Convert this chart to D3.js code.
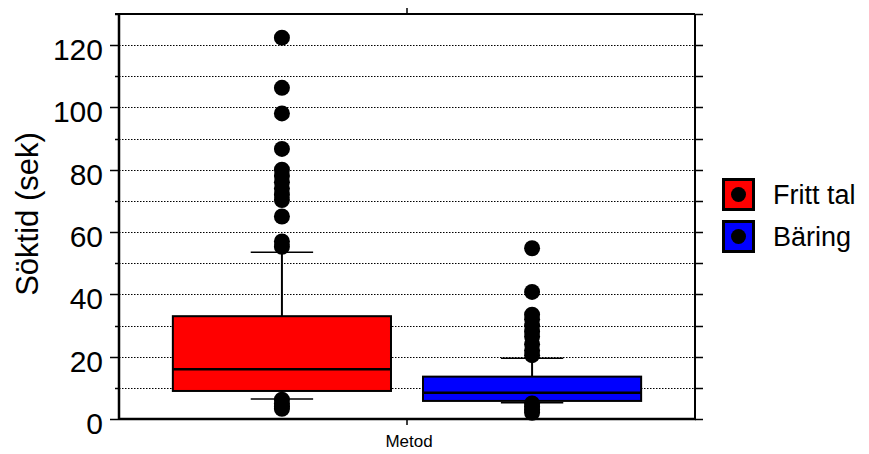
<!DOCTYPE html>
<html>
<head>
<meta charset="utf-8">
<script src="https://cdn.jsdelivr.net/npm/d3@7"></script>
<style>
	body { margin: 0; background: #fff; }
	svg { display: block; font-family: "Liberation Sans", Arial, sans-serif; }
</style>
</head>
<body>
<svg id="chart" width="869" height="454"></svg>
<script>
// Box plot data (seconds)
var groups = ["Fritt tal", "Bäring"];
var colors = ["#ff0000", "#0000ff"];
var q1 = [9.0, 5.8];
var medians = [16.0, 8.4];
var q3 = [33.0, 13.6];
var whiskerLow = [6.4, 5.2];
var whiskerHigh = [53.5, 19.5];
var outliersFritt = [122.4, 106.3, 98.1, 86.7, 80, 78, 76, 74, 72, 70.3, 65, 57, 55.3, 6.2, 5, 4, 3.3];
var outliersBaring = [54.8, 40.8, 33.5, 32, 30, 28, 26.5, 24, 22, 20.5, 5, 4, 3, 2];
var majorTicks = [0, 20, 40, 60, 80, 100, 120];
var gridValues = [10, 20, 30, 40, 50, 60, 70, 80, 90, 100, 110, 120];
var xCategory = ["Metod"];

var PLOT = { left: 119, right: 695, top: 14, bottom: 419 };
var DOT_R = 8;

function drawChart() {
	var svg = d3.select("#chart");

	var y = d3.scaleLinear()
		.domain([0, 130])
		.range([PLOT.bottom, PLOT.top]);

	// outer scale = the single "Metod" category, inner = the two groups
	var xOuter = d3.scaleBand()
		.domain(xCategory)
		.range([PLOT.left, PLOT.right])
		.paddingInner(0)
		.paddingOuter(0.115);

	var xInner = d3.scaleBand()
		.domain(groups)
		.range([0, xOuter.bandwidth()])
		.paddingInner(0.128)
		.paddingOuter(0);

	// dotted grid
	svg.append("g")
		.selectAll("line")
		.data(gridValues)
		.enter().append("line")
			.attr("x1", PLOT.left)
			.attr("x2", PLOT.right)
			.attr("y1", function(d) { return Math.round(y(d)) + 0.5; })
			.attr("y2", function(d) { return Math.round(y(d)) + 0.5; })
			.attr("stroke", "#000")
			.attr("stroke-width", 1.2)
			.attr("stroke-dasharray", "1.5,1.5");

	var boxes = svg.append("g")
		.attr("transform", "translate(" + xOuter("Metod") + ",0)");

	var outlierSets = [outliersFritt, outliersBaring];

	for (var i = 0; i < groups.length; i++) {
		var bx = xInner(groups[i]);
		var bw = xInner.bandwidth();
		var cx = bx + bw / 2;
		var capHalf = bw * 0.143;
		var g = boxes.append("g");

		// whiskers
		g.append("line")
			.attr("x1", cx).attr("x2", cx)
			.attr("y1", y(q3[i])).attr("y2", y(whiskerHigh[i]))
			.attr("stroke", "#000").attr("stroke-width", 2);
		g.append("line")
			.attr("x1", cx).attr("x2", cx)
			.attr("y1", y(q1[i])).attr("y2", y(whiskerLow[i]))
			.attr("stroke", "#000").attr("stroke-width", 2);
		g.append("line")
			.attr("x1", cx - capHalf).attr("x2", cx + capHalf)
			.attr("y1", y(whiskerHigh[i])).attr("y2", y(whiskerHigh[i]))
			.attr("stroke", "#000").attr("stroke-width", 1.5);
		g.append("line")
			.attr("x1", cx - capHalf).attr("x2", cx + capHalf)
			.attr("y1", y(whiskerLow[i])).attr("y2", y(whiskerLow[i]))
			.attr("stroke", "#000").attr("stroke-width", 1.5);

		// box
		g.append("rect")
			.attr("x", bx)
			.attr("y", y(q3[i]))
			.attr("width", bw)
			.attr("height", y(q1[i]) - y(q3[i]))
			.attr("fill", colors[i])
			.attr("stroke", "#000")
			.attr("stroke-width", 2);

		g.append("line")
			.attr("x1", bx).attr("x2", bx + bw)
			.attr("y1", y(medians[i])).attr("y2", y(medians[i]))
			.attr("stroke", "#000").attr("stroke-width", 2.5);

		g.selectAll("circle")
			.data(outlierSets[i])
			.enter().append("circle")
				.attr("cx", cx)
				.attr("cy", function(d) { return y(d); })
				.attr("r", DOT_R)
				.attr("fill", "#000");
	}

	// left axis
	var left = svg.append("g");
	left.append("line")
		.attr("x1", PLOT.left).attr("x2", PLOT.left)
		.attr("y1", PLOT.top).attr("y2", PLOT.bottom + 1)
		.attr("stroke", "#000").attr("stroke-width", 2.5);
	left.selectAll(".tick")
		.data(gridValues.concat([0, 130]))
		.enter().append("line")
			.attr("x1", function(d) { return majorTicks.indexOf(d) >= 0 ? PLOT.left - 9 : PLOT.left - 4; })
			.attr("x2", PLOT.left)
			.attr("y1", function(d) { return Math.round(y(d)) + 0.5; })
			.attr("y2", function(d) { return Math.round(y(d)) + 0.5; })
			.attr("stroke", "#000").attr("stroke-width", 1.5);
	left.selectAll("text")
		.data(majorTicks)
		.enter().append("text")
			.attr("x", PLOT.left - 16)
			.attr("y", function(d) { return y(d) + 15; })
			.attr("text-anchor", "end")
			.attr("font-size", "30px")
			.attr("fill", "#000")
			.text(function(d) { return d; });

	// right axis, ticks pointing outwards
	var right = svg.append("g");
	right.append("line")
		.attr("x1", PLOT.right).attr("x2", PLOT.right)
		.attr("y1", PLOT.top).attr("y2", PLOT.bottom + 1)
		.attr("stroke", "#000").attr("stroke-width", 2);
	right.selectAll("line.tick")
		.data(gridValues.concat([0, 130]))
		.enter().append("line")
			.attr("class", "tick")
			.attr("x1", PLOT.right)
			.attr("x2", PLOT.right + 8)
			.attr("y1", function(d) { return Math.round(y(d)) + 0.5; })
			.attr("y2", function(d) { return Math.round(y(d)) + 0.5; })
			.attr("stroke", "#000").attr("stroke-width", 1.5);

	// top and bottom frame
	var mid = xOuter("Metod") + xOuter.bandwidth() / 2;
	svg.append("line")
		.attr("x1", PLOT.left - 4).attr("x2", PLOT.right)
		.attr("y1", PLOT.top).attr("y2", PLOT.top)
		.attr("stroke", "#000").attr("stroke-width", 2);
	svg.append("line")
		.attr("x1", mid).attr("x2", mid)
		.attr("y1", PLOT.top - 6).attr("y2", PLOT.top)
		.attr("stroke", "#000").attr("stroke-width", 1.5);
	svg.append("line")
		.attr("x1", PLOT.left).attr("x2", PLOT.right + 1)
		.attr("y1", PLOT.bottom).attr("y2", PLOT.bottom)
		.attr("stroke", "#000").attr("stroke-width", 2.5);
	svg.append("line")
		.attr("x1", mid).attr("x2", mid)
		.attr("y1", PLOT.bottom).attr("y2", PLOT.bottom + 6)
		.attr("stroke", "#000").attr("stroke-width", 1.5);

	svg.append("text")
		.attr("x", mid + 2)
		.attr("y", 447)
		.attr("text-anchor", "middle")
		.attr("font-size", "17px")
		.attr("fill", "#000")
		.text(xCategory[0]);

	svg.append("text")
		.attr("transform", "translate(38,214) rotate(-90)")
		.attr("text-anchor", "middle")
		.attr("font-size", "31px")
		.attr("fill", "#000")
		.text("Söktid (sek)");

	// legend
	var legend = svg.append("g")
		.attr("transform", "translate(722,178)");
	var items = legend.selectAll("g")
		.data(groups)
		.enter().append("g")
			.attr("transform", function(d, i) { return "translate(0," + (i * 42) + ")"; });
	items.append("rect")
		.attr("x", 1.5).attr("y", 1.5)
		.attr("width", 30).attr("height", 30)
		.attr("fill", function(d, i) { return colors[i]; })
		.attr("stroke", "#000")
		.attr("stroke-width", 3);
	items.append("circle")
		.attr("cx", 16.5).attr("cy", 16.5)
		.attr("r", 7.5)
		.attr("fill", "#000");
	items.append("text")
		.attr("x", 51)
		.attr("y", 26)
		.attr("font-size", "27px")
		.attr("fill", "#000")
		.text(function(d) { return d; });
}

drawChart();
</script>
</body>
</html>
